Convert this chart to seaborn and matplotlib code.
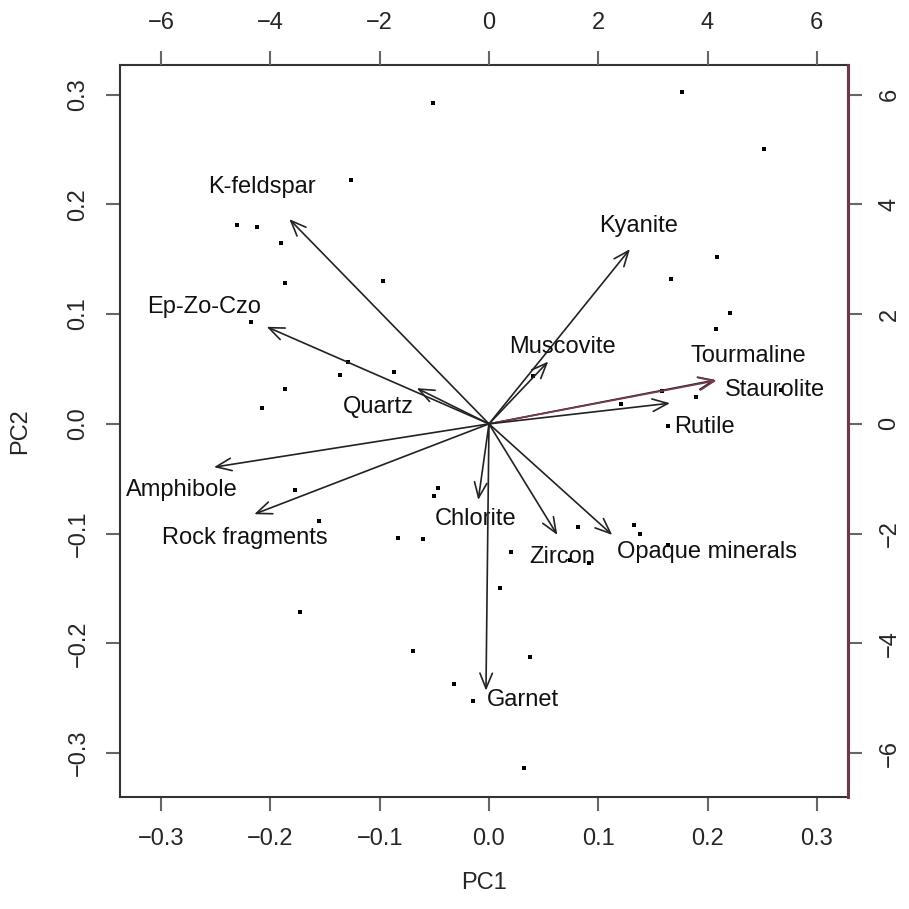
"""
biplot.py

PCA biplot of heavy mineral data: sample scores as small squares,
mineral loadings as arrows on a secondary (top/right) scale.
"""

import numpy as np
import pandas as pd
import seaborn as sns
import matplotlib.pyplot as plt

# sample scores (PC1 / PC2, bottom + left axes)
score_pc1 = [-0.0515, -0.1265, -0.2303, -0.2120, -0.1903, -0.0970, -0.1869, -0.2178,
             -0.1290, -0.1363, -0.0869, -0.1869, -0.2074, 0.1769, 0.2518, 0.2086,
             0.1662, 0.2205, 0.2080, 0.0405, 0.1580, 0.1205, 0.1891, 0.2671,
             0.1640, -0.1775, -0.1552, -0.0464, -0.0503, -0.0832, -0.0601, 0.0199,
             0.0103, -0.1729, -0.0692, -0.0318, -0.0144, 0.0814, 0.1327, 0.1384,
             0.1640, 0.0741, 0.0915, 0.0375, 0.0318]
score_pc2 = [0.2924, 0.2219, 0.1814, 0.1794, 0.1647, 0.1301, 0.1285, 0.0930,
             0.0568, 0.0449, 0.0474, 0.0322, 0.0146, 0.3026, 0.2505, 0.1516,
             0.1322, 0.1009, 0.0863, 0.0438, 0.0298, 0.0182, 0.0249, 0.0313,
             -0.0018, -0.0602, -0.0884, -0.0586, -0.0656, -0.1036, -0.1051, -0.1167,
             -0.1495, -0.1714, -0.2072, -0.2370, -0.2523, -0.0939, -0.0923, -0.1003,
             -0.1106, -0.1240, -0.1264, -0.2128, -0.3139]

# mineral loadings (top + right axes)
minerals = ["K-feldspar", "Ep-Zo-Czo", "Quartz", "Kyanite", "Muscovite", "Staurolite",
            "Tourmaline", "Rutile", "Amphibole", "Rock fragments", "Chlorite",
            "Garnet", "Zircon", "Opaque minerals"]
load_x = [-3.654, -4.068, -1.323, 2.580, 1.085, 4.150, 4.166, 3.312,
          -5.032, -4.295, -0.196, -0.055, 1.250, 2.256]
load_y = [3.732, 1.769, 0.651, 3.185, 1.136, 0.800, 0.789, 0.377,
          -0.789, -1.646, -1.386, -4.862, -2.024, -2.024]
label_x = [-4.154, -5.215, -2.026, 2.739, 1.351, 5.233, 4.752, 3.934,
           -5.625, -4.470, -0.238, 0.622, 1.336, 3.983]
label_y = [4.320, 2.128, 0.304, 3.597, 1.398, 0.620, 1.245, -0.049,
           -1.203, -2.078, -1.732, -5.032, -2.419, -2.328]

pc1_ticks = [-0.3, -0.2, -0.1, 0.0, 0.1, 0.2, 0.3]
pc2_ticks = [-0.3, -0.2, -0.1, 0.0, 0.1, 0.2, 0.3]
load_ticks = [-6, -4, -2, 0, 2, 4, 6]

XLIM = (-0.3376, 0.3285)
YLIM = (-0.340, 0.327)
SCALE = 20
FS = 17


def main():
    sns.set_theme(style="white")
    plt.rcParams['font.family'] = ['Liberation Sans', 'DejaVu Sans']

    scores = pd.DataFrame({"PC1": score_pc1, "PC2": score_pc2})
    loads = pd.DataFrame({"mineral": minerals, "x": load_x, "y": load_y,
                          "lx": label_x, "ly": label_y})

    fig = plt.figure(figsize=(9.09, 9.09), dpi=100)
    rect = [120 / 909, 1 - 797 / 909, 728 / 909, 732 / 909]
    ax = fig.add_axes(rect)

    sns.scatterplot(data=scores, x="PC1", y="PC2", ax=ax, marker="s", s=10,
                    color="black", linewidth=0, legend=False)
    ax.set_xlim(XLIM)
    ax.set_ylim(YLIM)
    ax.set_xticks(pc1_ticks)
    ax.set_yticks(pc2_ticks)
    ax.set_xticklabels([f"{t:.1f}".replace("-", "\u2212") for t in pc1_ticks])
    ax.set_yticklabels([f"{t:.1f}".replace("-", "\u2212") for t in pc2_ticks],
                       rotation=90, va="center")
    ax.tick_params(axis="both", direction="out", length=10, width=1.5,
                   color="#666666", labelsize=FS, pad=12, bottom=True, left=True)
    ax.set_xlabel("PC1", fontsize=FS, labelpad=16)
    ax.set_ylabel("PC2", fontsize=FS, labelpad=26)
    for sp in ax.spines.values():
        sp.set_color("#333333")
        sp.set_linewidth(1.5)

    # loadings on an overlaid axes with its own scale
    ax2 = fig.add_axes(rect)
    ax2.patch.set_visible(False)
    ax2.set_xlim(XLIM[0] * SCALE, XLIM[1] * SCALE)
    ax2.set_ylim(YLIM[0] * SCALE, YLIM[1] * SCALE)
    ax2.xaxis.tick_top()
    ax2.yaxis.tick_right()
    ax2.set_xticks(load_ticks)
    ax2.set_yticks(load_ticks)
    ax2.set_xticklabels([str(t).replace("-", "\u2212") for t in load_ticks])
    ax2.set_yticklabels([str(t).replace("-", "\u2212") for t in load_ticks],
                        rotation=90, va="center")
    ax2.tick_params(axis="both", direction="out", length=10, width=1.5,
                    color="#666666", labelsize=FS, pad=12, top=True, right=True)
    for name, sp in ax2.spines.items():
        sp.set_visible(name == "right")
    ax2.spines["right"].set_color("#6a3a48")
    ax2.spines["right"].set_linewidth(2.2)

    for _, r in loads.iterrows():
        col = "#7a3a4a" if r["mineral"] == "Tourmaline" else "#222222"
        ax2.annotate("", xy=(r["x"], r["y"]), xytext=(0, 0),
                     arrowprops=dict(arrowstyle="->,head_length=1.1,head_width=0.45",
                                     color=col, lw=1.2, shrinkA=0, shrinkB=0,
                                     mutation_scale=10))
        ax2.text(r["lx"], r["ly"], r["mineral"], fontsize=FS, ha="center",
                 va="center", color="#111111")

    plt.savefig("out.png", dpi=100)
    plt.close()


if __name__ == "__main__":
    main()
